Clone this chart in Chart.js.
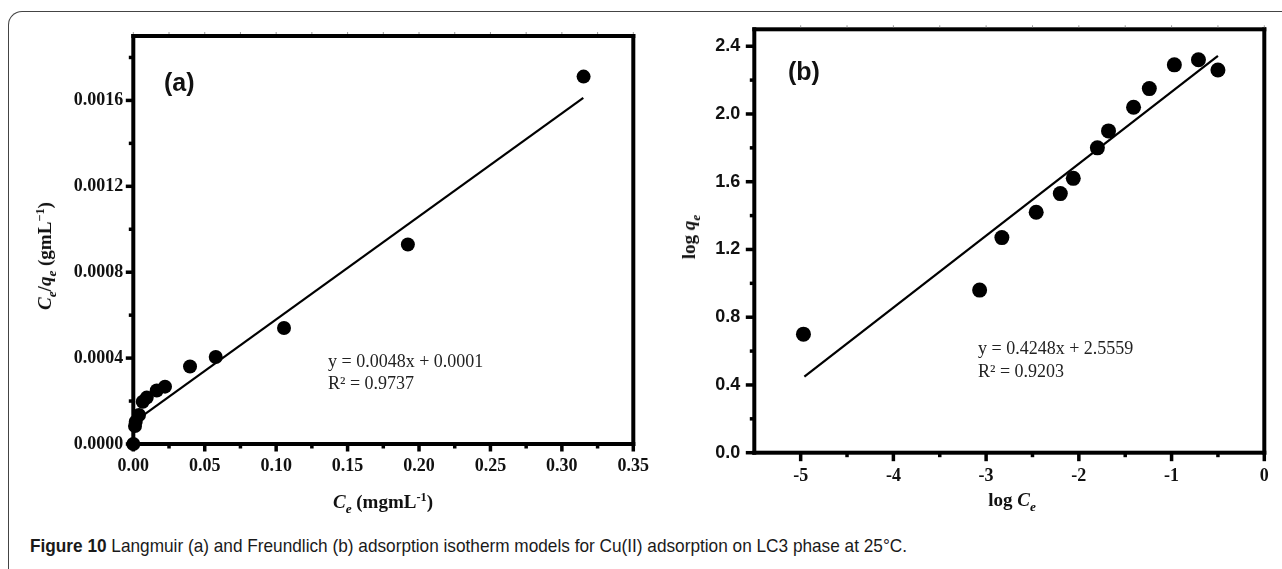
<!DOCTYPE html>
<html>
<head>
<meta charset="utf-8">
<title>Langmuir and Freundlich isotherms</title>
<script src="https://cdn.jsdelivr.net/npm/chart.js@4.4.1/dist/chart.umd.min.js"></script>
<style>
  html, body { margin: 0; padding: 0; background: #fff; }
  #figure { position: relative; width: 1282px; height: 569px; overflow: hidden; background: #fff; }
  .frame {
    position: absolute; left: 8px; top: 11px; width: 1400px; height: 700px;
    border-left: 1.5px solid #444; border-top: 1.5px solid #444; border-top-left-radius: 14px;
  }
  canvas { position: absolute; top: 0; }
  .txt { position: absolute; white-space: nowrap; color: #111; }
  .serif { font-family: "Liberation Serif", "Times New Roman", serif; }
  .panel { font-family: "Liberation Sans", Arial, sans-serif; font-weight: bold; font-size: 25px; line-height: 25px; }
  .eq { font-size: 18px; line-height: 22px; color: #222; }
  .axis-title { font-weight: bold; font-size: 19px; line-height: 24px; }
  .sub { font-size: 0.7em; position: relative; top: 0.35em; }
  .sup { font-size: 0.65em; position: relative; top: -0.55em; }
  .vert { transform: translate(-50%, -50%) rotate(-90deg); }
  .horiz { transform: translate(-50%, -50%); }
  #caption {
    position: absolute; left: 30px; top: 536px; white-space: nowrap;
    font-family: "Liberation Sans", Arial, sans-serif; font-size: 19px; line-height: 20px;
    color: #1a1a1a; transform-origin: left center;
  }
</style>
</head>
<body>
<div id="figure">
  <div class="frame"></div>

  <canvas id="langmuirChart" width="680" height="520" style="left:0px"></canvas>
  <canvas id="freundlichChart" width="632" height="520" style="left:650px"></canvas>

  <!-- panel (a) -->
  <div class="txt panel" style="left:164px; top:70px">(a)</div>
  <div class="txt serif eq" style="left:328px; top:350px">y = 0.0048x + 0.0001</div>
  <div class="txt serif eq" style="left:328px; top:372px">R² = 0.9737</div>
  <div class="txt serif axis-title horiz" style="left:383px; top:503px"><i>C</i><i class="sub">e</i> (mgmL<span class="sup">-1</span>)</div>
  <div class="txt serif axis-title vert" style="left:46px; top:256px"><i>C</i><i class="sub">e</i>/<i>q</i><i class="sub">e</i> (gmL<span class="sup">−1</span>)</div>

  <!-- panel (b) -->
  <div class="txt panel" style="left:788px; top:59px">(b)</div>
  <div class="txt serif eq" style="left:978px; top:337px">y = 0.4248x + 2.5559</div>
  <div class="txt serif eq" style="left:978px; top:360px">R² = 0.9203</div>
  <div class="txt serif axis-title horiz" style="left:1012px; top:501px">log <i>C</i><i class="sub">e</i></div>
  <div class="txt serif axis-title vert" style="left:690px; top:237px">log <i>q</i><i class="sub">e</i></div>

  <div id="caption"><b>Figure 10</b> Langmuir (a) and Freundlich (b) adsorption isotherm models for Cu(II) adsorption on LC3 phase at 25°C.</div>
</div>

<script>
/* ---------- Langmuir data (a) ---------- */

const langmuirCe = [0, 0.0012, 0.0017, 0.004, 0.0066, 0.0094, 0.0164, 0.0222, 0.0397, 0.0577, 0.1055, 0.1922, 0.3152];

const langmuirCeQe = [0, 0.000084, 0.000104, 0.000135, 0.000197, 0.000216, 0.000249, 0.000267, 0.000361, 0.000405, 0.00054, 0.000929, 0.001711];

// y = slope * x + intercept
const langmuirFit = [0.0048, 0.0001];

const langmuirFitRange = [0.003, 0.315];

const langmuirXTicks = [0, 0.05, 0.10, 0.15, 0.20, 0.25, 0.30, 0.35];

const langmuirYTicks = [0, 0.0004, 0.0008, 0.0012, 0.0016];

/* ---------- Freundlich data (b) ---------- */

const freundlichLogCe = [-4.97, -3.07, -2.83, -2.46, -2.20, -2.06, -1.80, -1.68, -1.41, -1.24, -0.97, -0.71, -0.50];

const freundlichLogQe = [0.70, 0.96, 1.27, 1.42, 1.53, 1.62, 1.80, 1.90, 2.04, 2.15, 2.29, 2.32, 2.26];

const freundlichFit = [0.4248, 2.5559];

const freundlichFitRange = [-4.96, -0.5];

const freundlichXTicks = [-5, -4, -3, -2, -1, 0];

const freundlichYTicks = [0, 0.4, 0.8, 1.2, 1.6, 2.0, 2.4];

/* ---------- frame + outward ticks ---------- */

function minorValues(ticks, min, max) {
    const step = ticks[1] - ticks[0];
    const out = [];
    for (let i = -1; i < ticks.length; i++) {
        const v = ticks[0] + (i + 0.5) * step;
        if (v > min + 1e-12 && v < max - 1e-12) out.push(v);
    }
    return out;
}

function frameTicks(style) {
    return {
        id: "frameTicks",
        afterDraw(chart) {
            const { ctx, chartArea: a, scales: { x, y } } = chart;
            const xMajor = x.ticks.map(t => t.value);
            const yMajor = y.ticks.map(t => t.value);
            const xMinor = minorValues(xMajor, x.min, x.max);
            const yMinor = minorValues(yMajor, y.min, y.max);
            const half = style.frameWidth / 2;

            ctx.save();
            ctx.fillStyle = "#000";

            // frame as four filled bars
            ctx.fillRect(a.left - half, a.top - half, a.right - a.left + 2 * half, style.frameWidth);
            ctx.fillRect(a.left - half, a.bottom - half, a.right - a.left + 2 * half, style.frameWidth);
            ctx.fillRect(a.left - half, a.top - half, style.frameWidth, a.bottom - a.top + 2 * half);
            ctx.fillRect(a.right - half, a.top - half, style.frameWidth, a.bottom - a.top + 2 * half);

            const w = style.tickWidth;
            xMajor.forEach(v => {
                const px = x.getPixelForValue(v);
                ctx.fillRect(px - w / 2, a.bottom, w, style.major);
            });
            xMinor.forEach(v => {
                const px = x.getPixelForValue(v);
                ctx.fillRect(px - w / 2, a.bottom, w, style.minor);
            });
            yMajor.forEach(v => {
                const py = y.getPixelForValue(v);
                ctx.fillRect(a.left - style.major, py - w / 2, style.major, w);
            });
            yMinor.forEach(v => {
                const py = y.getPixelForValue(v);
                ctx.fillRect(a.left - style.minor, py - w / 2, style.minor, w);
            });

            // faint marks on the top edge
            ctx.fillStyle = "#999";
            xMajor.concat(xMinor).forEach(v => {
                const px = x.getPixelForValue(v);
                ctx.fillRect(px - 0.5, a.top - half - 2, 1, 2);
            });
            ctx.restore();
        }
    };
}

/* ---------- chart builder ---------- */

function createPanel(canvasId, p) {
    const points = p.xs.map((v, i) => ({ x: v, y: p.ys[i] }));
    const fitLine = p.fitRange.map(v => ({ x: v, y: p.fit[0] * v + p.fit[1] }));

    return new Chart(document.getElementById(canvasId), {
        type: "scatter",
        data: {
            datasets: [
                {
                    data: points,
                    pointRadius: p.pointRadius,
                    pointBackgroundColor: "#000",
                    pointBorderWidth: 0,
                    showLine: false,
                    clip: false
                },
                {
                    type: "line",
                    data: fitLine,
                    borderColor: "#000",
                    borderWidth: 2.2,
                    pointRadius: 0,
                    fill: false,
                    clip: false
                }
            ]
        },
        options: {
            responsive: false,
            animation: false,
            events: [],
            layout: { padding: p.padding },
            plugins: {
                legend: { display: false },
                tooltip: { enabled: false }
            },
            scales: {
                x: {
                    type: "linear",
                    min: p.xMin,
                    max: p.xMax,
                    afterBuildTicks: s => { s.ticks = p.xTicks.map(value => ({ value })); },
                    afterFit: s => { s.height = 50; },
                    grid: { display: false, drawTicks: false },
                    border: { display: false },
                    ticks: {
                        padding: p.xPad,
                        color: "#111",
                        font: p.xFont,
                        maxRotation: 0,
                        autoSkip: false,
                        callback: p.xFormat
                    }
                },
                y: {
                    type: "linear",
                    min: p.yMin,
                    max: p.yMax,
                    afterBuildTicks: s => { s.ticks = p.yTicks.map(value => ({ value })); },
                    afterFit: s => { s.width = p.yWidth; },
                    grid: { display: false, drawTicks: false },
                    border: { display: false },
                    ticks: {
                        padding: p.yPad,
                        color: "#111",
                        font: p.yFont,
                        autoSkip: false,
                        callback: p.yFormat
                    }
                }
            }
        },
        plugins: [frameTicks(p.frame)]
    });
}

const serifBold = { family: "'Liberation Serif', 'Times New Roman', serif", size: 18, weight: "bold" };
const sansBold = { family: "'Liberation Sans', Arial, sans-serif", size: 18, weight: "bold" };

createPanel("langmuirChart", {
    xs: langmuirCe,
    ys: langmuirCeQe,
    fit: langmuirFit,
    fitRange: langmuirFitRange,
    xTicks: langmuirXTicks,
    yTicks: langmuirYTicks,
    xMin: 0, xMax: 0.35,
    yMin: 0, yMax: 0.0019,
    padding: { left: 73.3, top: 36, right: 46.7, bottom: 26 },
    yWidth: 60,
    xPad: 11.9, yPad: 10,
    xFont: serifBold, yFont: serifBold,
    xFormat: v => v.toFixed(2),
    yFormat: v => v.toFixed(4),
    pointRadius: 7,
    frame: { frameWidth: 4, tickWidth: 3.5, major: 7.5, minor: 4.5 }
});

createPanel("freundlichChart", {
    xs: freundlichLogCe,
    ys: freundlichLogQe,
    fit: freundlichFit,
    fitRange: freundlichFitRange,
    xTicks: freundlichXTicks,
    yTicks: freundlichYTicks,
    xMin: -5.5, xMax: 0,
    yMin: 0, yMax: 2.5,
    padding: { left: 54.3, top: 29.3, right: 12.7, bottom: 17.3 },
    yWidth: 50,
    xPad: 13.2, yPad: 14,
    xFont: serifBold, yFont: sansBold,
    xFormat: v => String(v),
    yFormat: v => v.toFixed(1),
    pointRadius: 7.5,
    frame: { frameWidth: 4, tickWidth: 3.5, major: 8.5, minor: 4.5 }
});

/* ---------- caption width ---------- */

const caption = document.getElementById("caption");
const capWidth = caption.getBoundingClientRect().width;
caption.style.transform = `scaleX(${877 / capWidth})`;
</script>
</body>
</html>
